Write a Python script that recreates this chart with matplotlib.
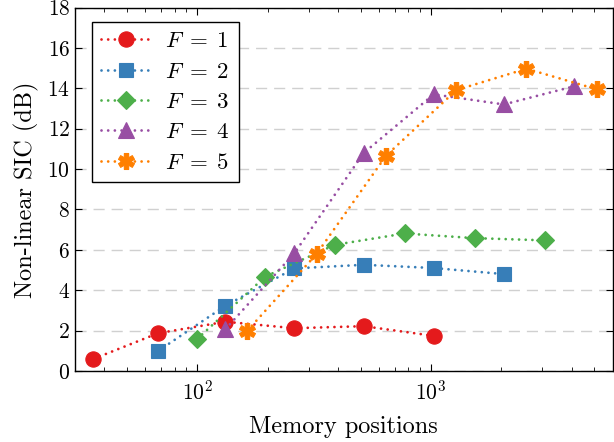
import numpy as np
import matplotlib
matplotlib.use("Agg")
import matplotlib.pyplot as plt
from matplotlib.path import Path
from matplotlib.ticker import LogLocator, NullFormatter, MultipleLocator

plt.rcParams['font.family'] = 'serif'
plt.rcParams['font.serif'] = ['cmr10']
plt.rcParams['mathtext.fontset'] = 'cm'
plt.rcParams['axes.formatter.use_mathtext'] = True
plt.rcParams['lines.scale_dashes'] = False

# data
x_f1 = [36, 68, 132, 260, 516, 1028]
y_f1 = [0.6, 1.87, 2.44, 2.12, 2.22, 1.74]
x_f2 = [68, 132, 260, 516, 1028, 2052]
y_f2 = [0.99, 3.23, 5.08, 5.26, 5.1, 4.8]
x_f3 = [100, 196, 388, 772, 1540, 3076]
y_f3 = [1.59, 4.68, 6.25, 6.81, 6.58, 6.47]
x_f4 = [132, 260, 516, 1028, 2052, 4100]
y_f4 = [2.07, 5.82, 10.8, 13.7, 13.2, 14.1]
x_f5 = [164, 324, 644, 1284, 2564, 5124]
y_f5 = [2.0, 5.79, 10.67, 13.91, 14.97, 13.95]
labels = [r'$F\;=\;1$', r'$F\;=\;2$', r'$F\;=\;3$', r'$F\;=\;4$', r'$F\;=\;5$']
colors = ['#e41a1c', '#377eb8', '#4daf4a', '#984ea3', '#ff7f00']

# thick six-armed asterisk marker shape
w = 0.27
verts = []
for k in range(6):
    th = np.deg2rad(90 + 60 * k)
    u = np.array([np.cos(th), np.sin(th)])
    v = np.array([-np.sin(th), np.cos(th)])
    verts.append(u - w * v)
    verts.append(u + w * v)
    tm = th + np.deg2rad(30)
    verts.append(2 * w * np.array([np.cos(tm), np.sin(tm)]))
verts.append(verts[0])
codes = [Path.MOVETO] + [Path.LINETO] * (len(verts) - 2) + [Path.CLOSEPOLY]
asterisk = Path(np.array(verts), codes)

fig = plt.figure(figsize=(6.14, 4.42), dpi=100)
ax = fig.add_axes([0.1221, 0.1606, 0.8759, 0.8224])

series = [(x_f1, y_f1), (x_f2, y_f2), (x_f3, y_f3), (x_f4, y_f4), (x_f5, y_f5)]
markers = ['o', 's', 'D', '^', asterisk]
msizes = [11, 10, 9, 11, 11.5]
for (xs, ys), lab, c, m, ms in zip(series, labels, colors, markers, msizes):
    ax.plot(xs, ys, color=c, lw=2.0, linestyle=(0, (0.01, 4.8)), dash_capstyle='round',
            marker=m, markersize=ms, markerfacecolor=c, markeredgecolor=c,
            markeredgewidth=0.8, label=lab)

ax.set_xscale('log')
ax.set_xlim(30, 6000)
ax.set_ylim(0, 18)
ax.yaxis.set_major_locator(MultipleLocator(2))
ax.xaxis.set_major_locator(LogLocator(base=10, numticks=10))
ax.xaxis.set_minor_locator(LogLocator(base=10, subs=range(2, 10), numticks=20))
ax.xaxis.set_minor_formatter(NullFormatter())

ax.grid(axis='y', which='major', color='#d0d0d0', linestyle=(0, (8, 5)), lw=1.0)
ax.set_axisbelow(True)
ax.tick_params(which='both', direction='in', top=True, right=True, labelsize=15.5)
ax.tick_params(which='major', length=5, width=0.8)
ax.tick_params(which='minor', length=3, width=0.6)
ax.tick_params(axis='x', pad=6)
for s in ax.spines.values():
    s.set_linewidth(1.0)

ax.set_xlabel('Memory positions', fontsize=17.5, labelpad=9)
ax.set_ylabel('Non-linear SIC (dB)', fontsize=17.5, labelpad=6)

leg = ax.legend(loc='upper left', bbox_to_anchor=(0.0316, 0.960), borderaxespad=0,
                fontsize=16.5, fancybox=False, edgecolor='black', framealpha=1,
                handlelength=2.2, numpoints=1, labelspacing=0.45, borderpad=0.4,
                handletextpad=0.6)
leg.get_frame().set_linewidth(1.0)

fig.savefig('out.png', dpi=100)
